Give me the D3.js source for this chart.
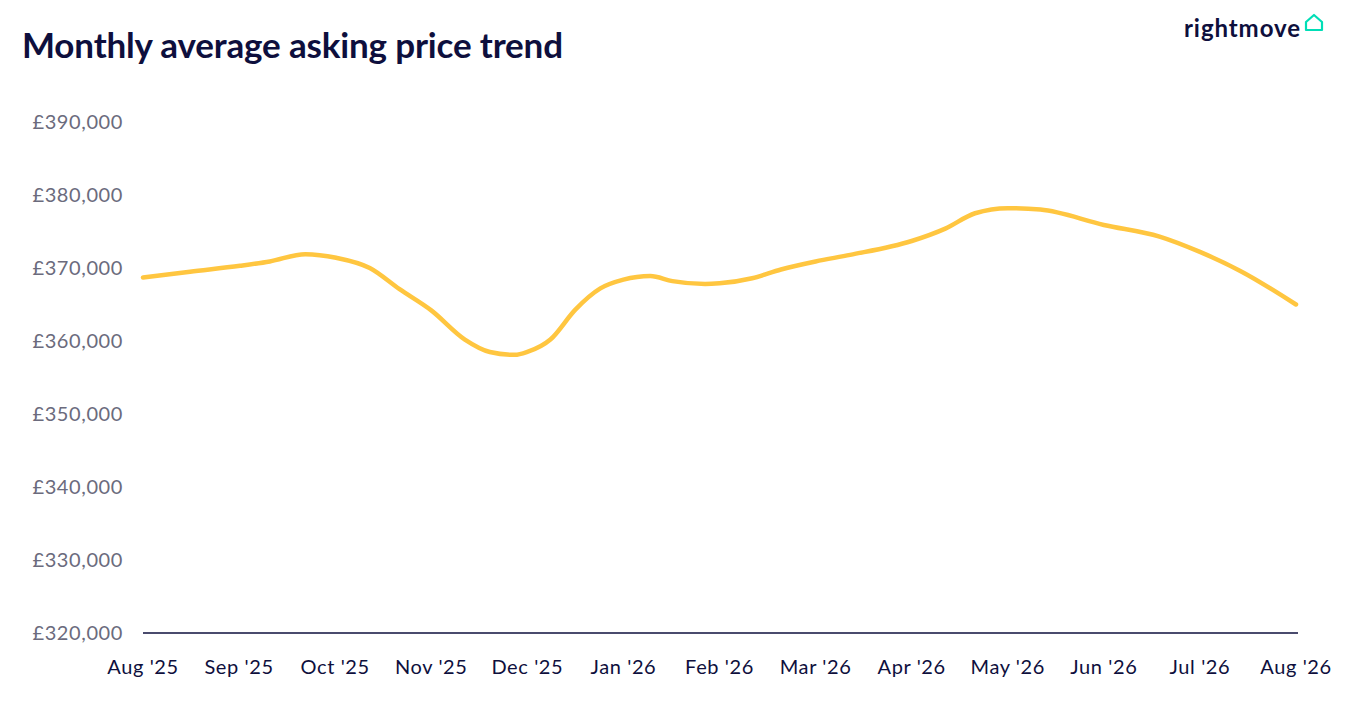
<!DOCTYPE html>
<html><head><meta charset="utf-8">
<script src="https://cdn.jsdelivr.net/npm/d3@7"></script>
<style>body{margin:0;background:#fff;font-family:Lato,"Open Sans",sans-serif}</style>
</head><body><svg id="c" width="1368" height="702"></svg>
<script>
const monthLabels=["Aug '25","Sep '25","Oct '25","Nov '25","Dec '25","Jan '26","Feb '26","Mar '26","Apr '26","May '26","Jun '26","Jul '26","Aug '26"];
const yTicks=[320000,330000,340000,350000,360000,370000,380000,390000];
// position in months from Aug '25, and asking price
const monthPos=[0,0.49,1.01,1.32,1.69,2.01,2.36,2.67,3.0,3.35,3.61,3.87,4.0,4.24,4.5,4.76,5.0,5.28,5.51,5.85,6.0,6.34,6.64,7.0,7.36,8.0,8.35,8.66,9.0,9.34,10.0,10.58,11.0,11.42,12.0];
const prices=[368700,369500,370300,370900,371900,371400,370000,367100,364200,360200,358500,358100,358500,360200,364300,367200,368400,368900,368200,367800,367900,368600,369800,370900,371800,373700,375400,377500,378200,378000,375900,374300,372200,369600,365000];

const svg=d3.select("#c");
const x=d3.scaleLinear().domain([0,12]).range([143,1296]);
const y=d3.scaleLinear().domain([320000,390000]).range([633,122]);
const navy="#0e0f3d";
svg.append("text").attr("x",22).attr("y",58).attr("font-size",35).attr("font-weight",700).attr("fill",navy).attr("textLength",541).text("Monthly average asking price trend");
svg.append("text").attr("x",1184).attr("y",37).attr("font-size",24).attr("font-weight",700).attr("fill",navy).attr("textLength",116).text("rightmove");
svg.append("path").attr("d","M1306,30 L1306,22 L1314,15 L1322,22 L1322,30 Z").attr("fill","none").attr("stroke","#00deb6").attr("stroke-width",2.2).attr("stroke-linejoin","round");

svg.selectAll(".yt").data(yTicks).join("text").attr("x",123).attr("y",d=>y(d)+7).attr("text-anchor","end")
 .attr("font-size",20).attr("letter-spacing","0.6").attr("fill","#6b6b7d").text(d=>"£"+d3.format(",")(d));
svg.append("line").attr("x1",143).attr("x2",1298).attr("y1",y(320000)).attr("y2",y(320000)).attr("stroke",navy).attr("stroke-width",1.5);
svg.selectAll(".xt").data(monthLabels).join("text").attr("x",(d,i)=>x(i)).attr("y",674).attr("text-anchor","middle")
 .attr("font-size",20).attr("letter-spacing","0.6").attr("fill",navy).text(d=>d);
const line=d3.line().x((d,i)=>x(monthPos[i])).y(d=>y(d)).curve(d3.curveMonotoneX);
svg.append("path").attr("d",line(prices)).attr("fill","none").attr("stroke","#ffc640").attr("stroke-width",4.5).attr("stroke-linecap","round");
</script></body></html>
